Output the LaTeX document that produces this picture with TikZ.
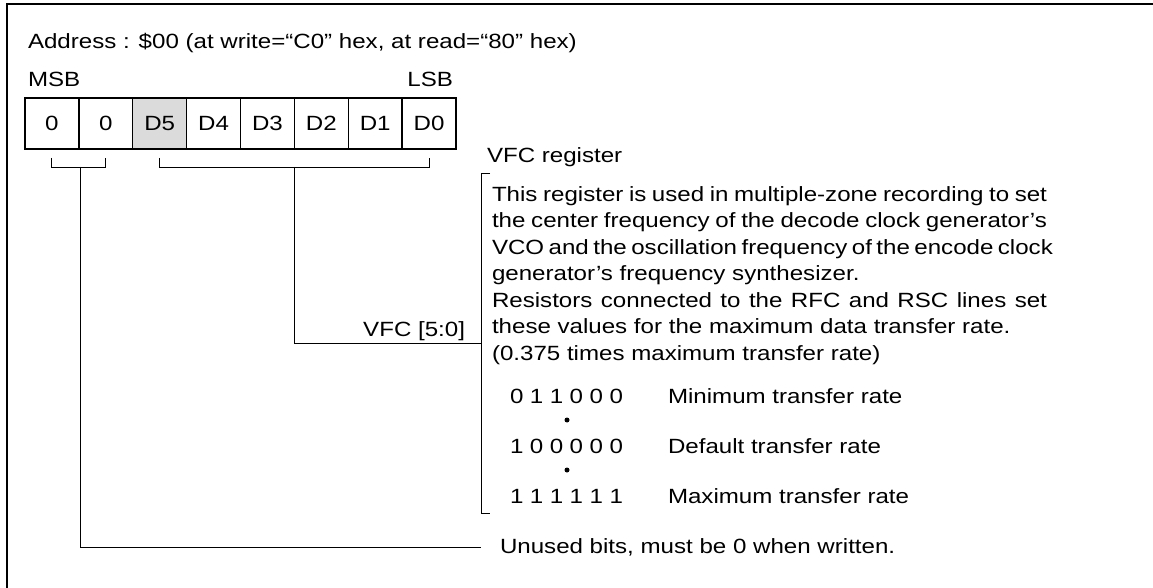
\documentclass[tikz,border=0pt]{standalone}
\usepackage{fontspec}
\setmainfont{Liberation Sans}[FakeStretch=1.17]
\begin{document}
\begin{tikzpicture}[x=1pt,y=-1pt,
  every node/.style={inner sep=0pt, outer sep=0pt, font=\fontsize{20.6}{23}\selectfont},
  cell/.style={draw, line width=1.4pt, minimum width=53.875pt, minimum height=51pt, anchor=center},
  txt/.style={anchor=base west},
  rtxt/.style={anchor=base east},
  conn/.style={line width=1pt},
  frame/.style={line width=2pt}]
\useasboundingbox (0,0) rectangle (1153,588);
% frame
\draw[frame] (7,588) -- (7,4) -- (1153,4);
% heading
\node[txt] (addr) at (28,49) {Address : \$00 (at write=“C0” hex, at read=“80” hex)};
\node[txt] (msb) at (28,87) {MSB};
\node[rtxt] (lsb) at (453,87) {LSB};
% register cells
\node[cell] (b7) at (51.94,123.5) {0};
\node[cell] (b6) at (105.81,123.5) {0};
\node[cell, fill=black!14] (b5) at (159.69,123.5) {D5};
\node[cell] (b4) at (213.56,123.5) {D4};
\node[cell] (b3) at (267.44,123.5) {D3};
\node[cell] (b2) at (321.31,123.5) {D2};
\node[cell] (b1) at (375.19,123.5) {D1};
\node[cell] (b0) at (429.06,123.5) {D0};
\draw[line width=2.6pt] (b7.north west) rectangle (b0.south east);
% brackets under register
\coordinate (u7) at ([yshift=-9pt]b7.south);
\coordinate (u6) at ([yshift=-9pt]b6.south);
\coordinate (v5) at ([yshift=-9pt]b5.south);
\coordinate (v0) at ([yshift=-9pt]b0.south);
\draw[conn] (u7) -- ++(0,10) -| (u6);
\draw[conn] (v5) -- ++(0,10) -| (v0);
\coordinate (ujoin) at (80,167);
\coordinate (vjoin) at (294.4,167);
% VFC description
\node[txt] (vfcreg) at (487,163) {VFC register};
\coordinate (btop) at (481,174);
\coordinate (bbot) at (481,513);
\draw[conn] (490,174) -- (btop) -- (bbot) -- (490,513);
\node[txt] (l1) at (492,201) {\makebox[555pt][s]{This register is used in multiple-zone recording to set}};
\node[txt] (l2) at (492,227.5) {\makebox[555pt][s]{the center frequency of the decode clock generator’s}};
\node[txt] (l3) at (492,254) {\makebox[555pt][s]{VCO and the oscillation frequency of the encode clock}};
\node[txt] (l4) at (492,280.5) {generator’s frequency synthesizer.};
\node[txt] (l5) at (492,307) {\makebox[555pt][s]{Resistors connected to the RFC and RSC lines set}};
\node[txt] (l6) at (492,333.5) {these values for the maximum data transfer rate.};
\node[txt] (l7) at (492,360) {(0.375 times maximum transfer rate)};
\node[rtxt] (vfc) at (465,336) {VFC [5:0]};
\coordinate (vend) at (481,343);
\draw[conn] (vjoin) |- (vend);
% table
\node[txt] (n1) at (510,403) {\makebox[113pt][s]{0 1 1 0 0 0}};
\node[txt] (n2) at (510,453) {\makebox[113pt][s]{1 0 0 0 0 0}};
\node[txt] (n3) at (510,503) {\makebox[113pt][s]{1 1 1 1 1 1}};
\fill (567,420) circle (2.5);
\fill (567,470) circle (2.5);
\node[txt] (t1) at (668,403) {Minimum transfer rate};
\node[txt] (t2) at (668,453) {Default transfer rate};
\node[txt] (t3) at (668,503) {Maximum transfer rate};
% unused
\node[txt] (unused) at (500,553) {Unused bits, must be 0 when written.};
\coordinate (uend) at (481,547);
\draw[conn] (ujoin) |- (uend);
\end{tikzpicture}
\end{document}
